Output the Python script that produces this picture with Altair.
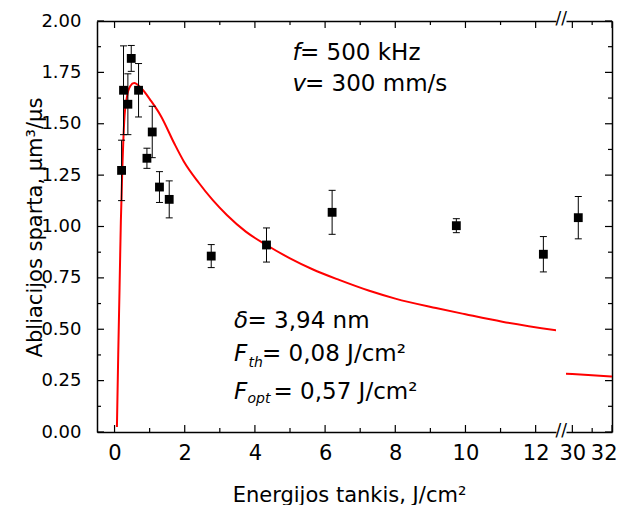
import altair as alt
import pandas as pd

# ---------------- data ----------------
pt_x = [0.20, 0.256, 0.38, 0.476, 0.684, 0.923, 1.074, 1.28, 1.558, 2.755, 4.33, 6.20, 9.74, 12.22, 30.3]
pt_y = [1.273, 1.663, 1.595, 1.818, 1.663, 1.332, 1.460, 1.192, 1.132, 0.856, 0.910, 1.069, 1.004, 0.865, 1.043]
pt_err = [0.147, 0.216, 0.148, 0.063, 0.130, 0.049, 0.125, 0.075, 0.090, 0.056, 0.083, 0.107, 0.034, 0.086, 0.103]

fit_x = [0.068, 0.105, 0.143, 0.18, 0.22, 0.276, 0.35, 0.45, 0.56, 0.75, 1.04, 1.32, 1.70, 1.97,
         2.4, 2.80, 3.2, 3.74, 4.33, 5.0, 5.64, 6.40, 7.26, 8.0, 9.16, 10.0, 11.05, 12.59,
         29.68, 30.8, 32.0]
fit_y = [0.024, 0.378, 0.702, 1.027, 1.27, 1.513, 1.627, 1.684, 1.698, 1.675, 1.611, 1.538, 1.405, 1.318,
         1.213, 1.128, 1.056, 0.975, 0.91, 0.845, 0.792, 0.74, 0.687, 0.649, 0.603, 0.573, 0.537, 0.495,
         0.284, 0.277, 0.270]

x_major_left = [0, 2, 4, 6, 8, 10, 12]
x_minor_left = [1, 3, 5, 7, 9, 11]
x_major_right = [30, 32]
x_minor_right = [31]
y_major = [0, 0.25, 0.5, 0.75, 1.0, 1.25, 1.5, 1.75, 2.0]
y_minor = [0.125, 0.375, 0.625, 0.875, 1.125, 1.375, 1.625, 1.875]

x_title = "Energijos tankis, J/cm²"
y_title = "Abliacijos sparta, μm³/μs"

# annotation: text, x(px in panel), y(px baseline in panel), size, style
ann_text = ["f", "= 500 kHz", "v", "= 300 mm/s",
            "δ", "= 3,94 nm",
            "F", "th", "= 0,08 J/cm²",
            "F", "opt", "= 0,57 J/cm²"]
ann_x = [195.5, 203, 195.5, 208, 137, 150.5, 137, 151.5, 165, 137, 150.5, 176.5]
ann_y = [39, 39, 70, 70, 306.7, 306.7, 340, 346, 340, 378.3, 382, 378.3]
ann_size = [23, 23, 23, 23, 23, 23, 23, 14, 23, 23, 14, 23]
ann_style = ["italic", "normal", "italic", "normal", "italic", "normal",
             "italic", "italic", "normal", "italic", "italic", "normal"]

FONT = "DejaVu Sans"
W1, W2, H = 459, 46, 411
XD1 = [-0.5, 12.58]
XD2 = [29.68, 32.0]
YD = [0, 2]
MAJ, MIN = 7, 4

pts = pd.DataFrame({"x": pt_x, "y": pt_y, "e": pt_err})
fit = pd.DataFrame({"fx": fit_x, "fy": fit_y})


def x_ticks(values, length, top, sx):
    y1, y2 = (0, length) if top else (H, H - length)
    return alt.Chart(pd.DataFrame({"v": values})).mark_rule(
        color="black", strokeWidth=1.2
    ).encode(x=alt.X("v:Q", scale=sx, axis=None), y=alt.value(y1), y2=alt.value(y2))


def y_ticks(values, length, x_edge, inward, sy):
    return alt.Chart(pd.DataFrame({"v": values})).mark_rule(
        color="black", strokeWidth=1.2
    ).encode(y=alt.Y("v:Q", scale=sy, axis=None), x=alt.value(x_edge),
             x2=alt.value(x_edge + inward * length))


def panel(xdom, width, left):
    sx = alt.Scale(domain=xdom, nice=False, zero=False)
    sy = alt.Scale(domain=YD, nice=False, zero=False)
    if left:
        filt, ffilt = "datum.x < 20", "datum.fx < 20"
        xmaj, xmin = x_major_left, x_minor_left
    else:
        filt, ffilt = "datum.x > 20", "datum.fx > 20"
        xmaj, xmin = x_major_right, x_minor_right

    lab_kw = dict(orient="bottom", values=xmaj, labels=True, domain=True, ticks=False,
                  tickSize=0, grid=False, domainColor="black", domainWidth=1.5,
                  labelFont=FONT, labelFontSize=21, labelPadding=10,
                  labelColor="black")
    top_axis = alt.Axis(orient="top", values=xmaj, labels=False, ticks=False, domain=True,
                        grid=False, domainColor="black", domainWidth=1.5, title=None)
    if left:
        x_lab = alt.Axis(labelFlush=False, title=x_title, titleX=252, titleY=69,
                         titleBaseline="alphabetic", titleFont=FONT, titleFontSize=21,
                         titleFontWeight="normal", titleColor="black", **lab_kw)
        y_ax = alt.Axis(orient="left", values=y_major, labels=True, domain=True,
                        ticks=False, tickSize=0, grid=False, format=".2f",
                        domainColor="black", domainWidth=1.5,
                        labelFont=FONT, labelFontSize=18, labelPadding=16,
                        labelColor="black", title=y_title, titleX=-56, titleY=206,
                        titleBaseline="alphabetic", titleFont=FONT, titleFontSize=21,
                        titleFontWeight="normal", titleColor="black")
        y_edge, inward = 0, 1
    else:
        x_lab = alt.Axis(labelFlush=True, labelFlushOffset=5, title=None, **lab_kw)
        y_ax = alt.Axis(orient="right", values=y_major, labels=False, domain=True,
                        ticks=False, grid=False, domainColor="black", domainWidth=1.5,
                        title=None)
        y_edge, inward = width, -1

    base = alt.Chart(pts).transform_filter(filt).transform_calculate(
        lo="datum.y - datum.e", hi="datum.y + datum.e")

    curve = alt.Chart(fit).transform_filter(ffilt).mark_line(
        color="#ff0000", strokeWidth=2, clip=True, interpolate="monotone"
    ).encode(
        x=alt.X("fx:Q", scale=sx, axis=x_lab),
        y=alt.Y("fy:Q", scale=sy, axis=y_ax),
    )
    rules = base.mark_rule(color="black", strokeWidth=1).encode(
        x=alt.X("x:Q", scale=sx, axis=top_axis),
        y=alt.Y("lo:Q", scale=sy, axis=None),
        y2="hi:Q",
    )
    caps = base.transform_fold(["lo", "hi"], as_=["k", "v"]).mark_tick(
        orient="horizontal", size=7, thickness=1, color="black", opacity=1
    ).encode(
        x=alt.X("x:Q", scale=sx, axis=None),
        y=alt.Y("v:Q", scale=sy, axis=None),
    )
    points = base.mark_square(size=78, color="black", opacity=1).encode(
        x=alt.X("x:Q", scale=sx, axis=None),
        y=alt.Y("y:Q", scale=sy, axis=None),
    )
    ticks = [
        x_ticks(xmaj, MAJ, False, sx), x_ticks(xmin, MIN, False, sx),
        x_ticks(xmaj, MAJ, True, sx), x_ticks(xmin, MIN, True, sx),
        y_ticks(y_major, MAJ, y_edge, inward, sy), y_ticks(y_minor, MIN, y_edge, inward, sy),
    ]
    layers = [curve, rules, caps, points] + ticks
    if left:
        for t, xx, yy, s, st in zip(ann_text, ann_x, ann_y, ann_size, ann_style):
            layers.append(
                alt.Chart(pd.DataFrame({"t": [t]})).mark_text(
                    align="left", baseline="alphabetic", font=FONT, fontSize=s,
                    fontStyle=st, color="black"
                ).encode(text="t:N", x=alt.value(xx), y=alt.value(yy))
            )
    else:
        brk = pd.DataFrame({"t": ["//", "//"], "py": [-2.5, H - 1]})
        layers.append(
            alt.Chart(brk).mark_text(
                align="center", baseline="middle", font=FONT, fontSize=17, color="black"
            ).encode(text="t:N", x=alt.value(-4.7), y=alt.Y("py:Q", scale=None, axis=None))
        )
    return alt.layer(*layers).resolve_scale(x="shared", y="shared").resolve_axis(
        x="independent", y="independent").properties(width=width, height=H)


left_panel = panel(XD1, W1, True)
right_panel = panel(XD2, W2, False)

chart = alt.hconcat(left_panel, right_panel, spacing=10, bounds="flush").properties(
    padding={"left": 16, "top": 1, "right": 0, "bottom": 0}
).configure_view(stroke=None)

chart.save("out.html", embed_options={"renderer": "svg", "actions": False})
